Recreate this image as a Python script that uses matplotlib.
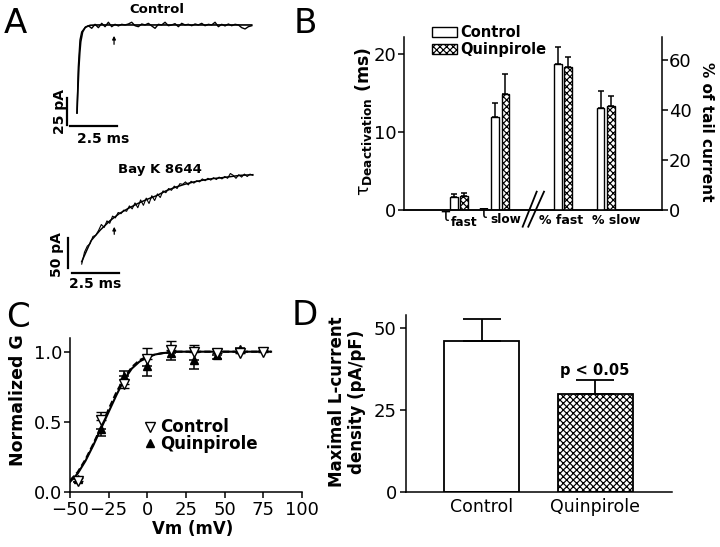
import numpy as np
import matplotlib
matplotlib.use("Agg")
import matplotlib.pyplot as plt
from matplotlib.patches import Patch
from matplotlib.lines import Line2D

plt.rcParams["font.family"] = "DejaVu Sans"
plt.rcParams["hatch.linewidth"] = 0.85
plt.rcParams["axes.linewidth"] = 1.1

# ---------------- data ----------------
# A: tail currents (ms, pA)
ctrl_rise_t = [0.0, 0.07, 0.16, 0.25]
ctrl_rise_i = [0.0, 42.6, 67.6, 75.0]
ctrl_trace_i = [79.0, 80.8, 78.4, 82.1, 79.0, 83.0, 79.9, 84.0, 79.9, 82.1,
                80.6, 82.1, 81.5, 82.4, 84.0, 80.8, 79.9, 82.4, 81.5, 83.0,
                80.6, 78.4, 82.1, 81.5, 84.0, 80.8, 81.5, 82.7, 79.9, 83.0,
                81.5, 82.1, 80.8, 82.4, 81.5, 83.0, 80.8, 82.1, 81.5, 84.0,
                79.9, 82.1, 80.6, 82.4, 80.8, 82.1, 81.5, 79.0, 77.8, 79.9, 80.8]
ctrl_fit_t = [0.0, 0.05, 0.1, 0.15, 0.2, 0.3, 0.45, 0.7, 1.0, 9.34]
ctrl_fit_i = [0.0, 22.0, 42.0, 56.0, 66.0, 75.0, 79.5, 81.2, 81.5, 81.5]

bay_trace_i = [-4, 16, 26, 30, 42, 44, 52, 62, 57, 68,
               64, 76, 73, 82, 80, 86, 84, 93, 88, 98,
               90, 103, 94, 106, 97, 110, 102, 113, 107, 118,
               115, 122, 119, 126, 122, 130, 129, 133, 128, 134,
               131, 135, 133, 138, 135, 139, 136, 140, 137, 141,
               138, 142, 139, 147, 144, 139, 145, 141, 146, 142,
               146, 144]
bay_fit_t = [0, 0.5, 1, 1.5, 2, 2.5, 3, 3.5, 4, 4.5, 5, 5.5, 6, 6.5, 7, 7.5, 8, 8.5, 9.15]
bay_fit_i = [0, 35, 53, 68, 80, 89, 97, 104, 110, 118, 124, 129, 133, 136, 138.5, 140, 142, 144, 145]

# B: deactivation time constants (ms) and fractions (% of tail current)
tau_ctrl = [1.7, 11.9]
tau_ctrl_err = [0.4, 1.8]
tau_quin = [1.8, 14.9]
tau_quin_err = [0.35, 2.5]
pct_ctrl = [58.3, 40.7]
pct_ctrl_err = [6.8, 7.0]
pct_quin = [57.3, 41.7]
pct_quin_err = [3.9, 3.9]

# C: activation curves
vm = [-45, -30, -15, 0, 15, 30, 45, 60, 75]
g_ctrl = [0.08, 0.51, 0.77, 0.95, 1.01, 1.00, 0.99, 0.99, 1.00]
g_ctrl_lo = [0.0, 0.0, 0.03, 0.0, 0.0, 0.0, 0.0, 0.0, 0.0]
g_ctrl_hi = [0.02, 0.06, 0.0, 0.08, 0.07, 0.05, 0.03, 0.01, 0.01]
g_quin = [0.09, 0.45, 0.83, 0.90, 0.99, 0.94, 0.98, 1.02, np.nan]
g_quin_lo = [0.02, 0.05, 0.0, 0.07, 0.05, 0.06, 0.03, 0.0, 0.0]
g_quin_hi = [0.0, 0.0, 0.03, 0.0, 0.0, 0.0, 0.0, 0.01, 0.0]
fit_v = [-50, -45, -40, -35, -30, -25, -20, -15, -10, -5, 0, 5, 10, 15, 20, 30, 40, 80]
fit_quin = [0.07, 0.13, 0.22, 0.33, 0.45, 0.57, 0.69, 0.80, 0.88, 0.93, 0.96, 0.98, 0.99, 0.995, 1.0, 1.0, 1.0, 1.0]
fit_ctrl = [0.08, 0.14, 0.23, 0.34, 0.46, 0.59, 0.71, 0.81, 0.89, 0.94, 0.965, 0.98, 0.99, 1.0, 1.0, 1.0, 1.0, 1.0]

# D: maximal L-current density (pA/pF)
d_labels = ["Control", "Quinpirole"]
d_vals = [46.1, 29.9]
d_err = [6.5, 4.2]

# ---------------- figure ----------------
W, H = 720, 547
fig = plt.figure(figsize=(W / 100, H / 100), dpi=100)


def px_axes(left, top, right, bottom):
    return fig.add_axes([left / W, 1 - bottom / H, (right - left) / W, (bottom - top) / H])


HATCH = "xxxxx"

# ---- A: Control trace
axa1 = px_axes(55, 0, 265, 145)
axa1.set_xlim(-1.176, 10.05)
axa1.set_ylim(-29.6, 104.6)
axa1.axis("off")
ctrl_t = list(ctrl_rise_t) + list(np.linspace(0.43, 9.34, len(ctrl_trace_i)))
axa1.plot(ctrl_t, list(ctrl_rise_i) + ctrl_trace_i, color="k", lw=1.0)
axa1.plot(ctrl_fit_t, ctrl_fit_i, color="k", lw=1.2)
axa1.annotate("", xy=(1.98, 74), xytext=(1.98, 61),
              arrowprops=dict(arrowstyle="-|>", color="k", lw=0.9, mutation_scale=5))
axa1.plot([-0.55, -0.55], [-11.1, 13.9], color="k", lw=1.6)
axa1.plot([-0.37, 2.13], [-12, -12], color="k", lw=1.6)

# ---- A: Bay K 8644 trace
axa2 = px_axes(55, 150, 265, 290)
axa2.set_xlim(-1.428, 9.802)
axa2.set_ylim(-47.2, 186.2)
axa2.axis("off")
bay_t = np.linspace(0, 9.15, len(bay_trace_i))
axa2.plot(bay_t, bay_trace_i, color="k", lw=0.8)
axa2.plot(bay_fit_t, bay_fit_i, color="k", lw=1.1)
axa2.annotate("", xy=(1.74, 62.8), xytext=(1.74, 41),
              arrowprops=dict(arrowstyle="-|>", color="k", lw=0.9, mutation_scale=5))
axa2.plot([-0.75, -0.75], [-10.5, 39.5], color="k", lw=1.6)
axa2.plot([-0.53, 1.97], [-18.8, -18.8], color="k", lw=1.6)

# ---- B: bar chart with two y scales
axb = px_axes(404, 37, 662, 210)
axb.set_xlim(0, 6)
axb.set_ylim(0, 22.18)
axr = axb.twinx()
axr.set_ylim(0, 69.2)
group_pos = [1.28, 2.24, 3.70, 4.69]
off, bw = 0.117, 0.177
tau_x = np.array(group_pos[:2])
pct_x = np.array(group_pos[2:])
axb.bar(tau_x - off, tau_ctrl, bw, color="white", edgecolor="k", lw=1.0)
axb.bar(tau_x + off, tau_quin, bw, color="white", edgecolor="k", lw=1.0, hatch=HATCH)
axb.errorbar(tau_x - off, tau_ctrl, yerr=[[0, 0], tau_ctrl_err], fmt="none", ecolor="k",
             elinewidth=1.1, capsize=2.5, capthick=1.1)
axb.errorbar(tau_x + off, tau_quin, yerr=[[0, 0], tau_quin_err], fmt="none", ecolor="k",
             elinewidth=1.1, capsize=2.5, capthick=1.1)
axr.bar(pct_x - off, pct_ctrl, bw, color="white", edgecolor="k", lw=1.0)
axr.bar(pct_x + off, pct_quin, bw, color="white", edgecolor="k", lw=1.0, hatch=HATCH)
axr.errorbar(pct_x - off, pct_ctrl, yerr=[[0, 0], pct_ctrl_err], fmt="none", ecolor="k",
             elinewidth=1.1, capsize=2.5, capthick=1.1)
axr.errorbar(pct_x + off, pct_quin, yerr=[[0, 0], pct_quin_err], fmt="none", ecolor="k",
             elinewidth=1.1, capsize=2.5, capthick=1.1)
for a in (axb, axr):
    a.spines["top"].set_visible(False)
    a.set_xticks([])
axb.spines["right"].set_visible(False)
axr.spines["left"].set_visible(False)
axb.set_yticks([0, 10, 20])
axr.set_yticks([0, 20, 40, 60])
axb.tick_params(axis="y", direction="out", length=4.5, width=1.1, pad=1, labelsize=13)
axr.tick_params(axis="y", direction="out", length=4.5, width=1.1, pad=0.5, labelsize=13)
# axis break marks
for x0, x1 in [(2.76, 3.086), (2.89, 3.256)]:
    axb.plot([x0, x1], [-2.14, 2.35], color="k", lw=1.3, clip_on=False)
axb.legend(handles=[Patch(facecolor="white", edgecolor="k", lw=1.0, label="Control"),
                    Patch(facecolor="white", edgecolor="k", lw=1.0, hatch=HATCH, label="Quinpirole")],
           loc="upper left", bbox_to_anchor=(432 / W, 1 - 25 / H), bbox_transform=fig.transFigure,
           frameon=False, borderpad=0, borderaxespad=0, handlelength=1.71, handleheight=0.75,
           handletextpad=0.2, labelspacing=0.14, prop=dict(size=10.5, weight="bold"))

# ---- C: activation curves
axc = px_axes(70, 337.7, 302, 491.7)
axc.set_xlim(-50, 100)
axc.set_ylim(0, 1.1)
axc.plot(fit_v, fit_quin, color="k", lw=1.5)
axc.plot(fit_v, fit_ctrl, color="k", lw=1.5, ls=(0, (3, 1.5)))
axc.errorbar(vm, g_quin, yerr=[g_quin_lo, g_quin_hi], fmt="^", color="k", ms=6,
             mfc="k", mec="k", elinewidth=1.1, capsize=3.6, capthick=1.1, zorder=3)
axc.errorbar(vm, g_ctrl, yerr=[g_ctrl_lo, g_ctrl_hi], fmt="v", color="k", ms=7,
             mfc="white", mec="k", mew=1.0, elinewidth=1.1, capsize=3.6, capthick=1.1, zorder=4)
axc.spines["top"].set_visible(False)
axc.spines["right"].set_visible(False)
axc.set_xticks([-50, -25, 0, 25, 50, 75, 100])
axc.set_yticks([0, 0.5, 1.0])
axc.set_yticklabels(["0.0", "0.5", "1.0"])
axc.tick_params(direction="out", length=4.5, width=1.1, labelsize=13)
axc.tick_params(axis="x", pad=2)
axc.tick_params(axis="y", pad=1)
axc.legend(handles=[Line2D([], [], ls="none", marker="v", ms=7, mfc="white", mec="k", label="Control"),
                    Line2D([], [], ls="none", marker="^", ms=6, mfc="k", mec="k", label="Quinpirole")],
           loc="center left", bbox_to_anchor=(142 / W, 1 - 435.5 / H), bbox_transform=fig.transFigure,
           frameon=False, borderpad=0, borderaxespad=0, handlelength=1.0, handletextpad=0.1,
           labelspacing=-0.1, prop=dict(size=12, weight="bold"))

# ---- D: maximal current density
axd = px_axes(405.7, 315, 671.7, 492.3)
axd.set_xlim(-0.666, 1.671)
axd.set_ylim(0, 53.9)
d_x = np.arange(len(d_vals))
axd.bar(d_x[0], d_vals[0], 0.66, color="white", edgecolor="k", lw=1.3)
axd.bar(d_x[1], d_vals[1], 0.66, color="white", edgecolor="k", lw=1.3, hatch=HATCH)
axd.errorbar(d_x, d_vals, yerr=[[0, 0], d_err], fmt="none", ecolor="k",
             elinewidth=1.3, capsize=14, capthick=1.3)
axd.spines["top"].set_visible(False)
axd.spines["right"].set_visible(False)
axd.set_yticks([0, 25, 50])
axd.set_xticks(d_x)
axd.set_xticklabels(d_labels)
axd.tick_params(axis="y", direction="out", length=4.5, width=1.1, pad=2, labelsize=13)
axd.tick_params(axis="x", length=0, pad=4, labelsize=12.5)

# ---- free text overlay (pixel coordinates)
ov = fig.add_axes([0, 0, 1, 1])
ov.set_xlim(0, W)
ov.set_ylim(H, 0)
ov.axis("off")

for letter, x, y in [("A", 15.5, 33), ("B", 305, 33), ("C", 17.5, 327), ("D", 305, 325)]:
    ov.text(x, y, letter, fontsize=24.5, ha="center", va="baseline")

ov.text(157, 13, "Control", fontsize=9.5, weight="bold", ha="center", va="baseline")
ov.text(160, 173, "Bay K 8644", fontsize=9.5, weight="bold", ha="center", va="baseline")
ov.text(60, 111, "25 pA", fontsize=10, weight="bold", rotation=90, ha="center", va="center")
ov.text(103, 143, "2.5 ms", fontsize=10, weight="bold", ha="center", va="baseline")
ov.text(57.5, 255, "50 pA", fontsize=10, weight="bold", rotation=90, ha="center", va="center")
ov.text(95, 288, "2.5 ms", fontsize=10, weight="bold", ha="center", va="baseline")

ov.text(363, 122, r"$\mathrm{τ}_{\mathbf{Deactivation}}$ (ms)", fontsize=12.5, weight="bold",
        rotation=90, ha="center", va="center")
ov.text(706, 132, "% of tail current", fontsize=11, weight="bold", rotation=270,
        ha="center", va="center")
ov.text(440, 221, "τ", fontsize=12, ha="left", va="baseline")
ov.text(451, 226, "fast", fontsize=8.7, weight="bold", ha="left", va="baseline")
ov.text(478, 218, "τ", fontsize=12, ha="left", va="baseline")
ov.text(490, 223, "slow", fontsize=8.7, weight="bold", ha="left", va="baseline")
ov.text(561, 224, "% fast", fontsize=9, weight="bold", ha="center", va="baseline")
ov.text(616, 224, "% slow", fontsize=9, weight="bold", ha="center", va="baseline")

ov.text(18, 400, "Normalized G", fontsize=12.5, weight="bold", rotation=90, ha="center", va="center")
ov.text(193, 529, "Vm (mV)", fontsize=12, weight="bold", ha="center", va="center")

ov.text(337, 402, "Maximal L-current", fontsize=12, weight="bold", rotation=90, ha="center", va="center")
ov.text(357, 402, "density (pA/pF)", fontsize=12, weight="bold", rotation=90, ha="center", va="center")
ov.text(595, 375, "p < 0.05", fontsize=10.5, weight="bold", ha="center", va="baseline")

fig.savefig("out.png", dpi=100)
